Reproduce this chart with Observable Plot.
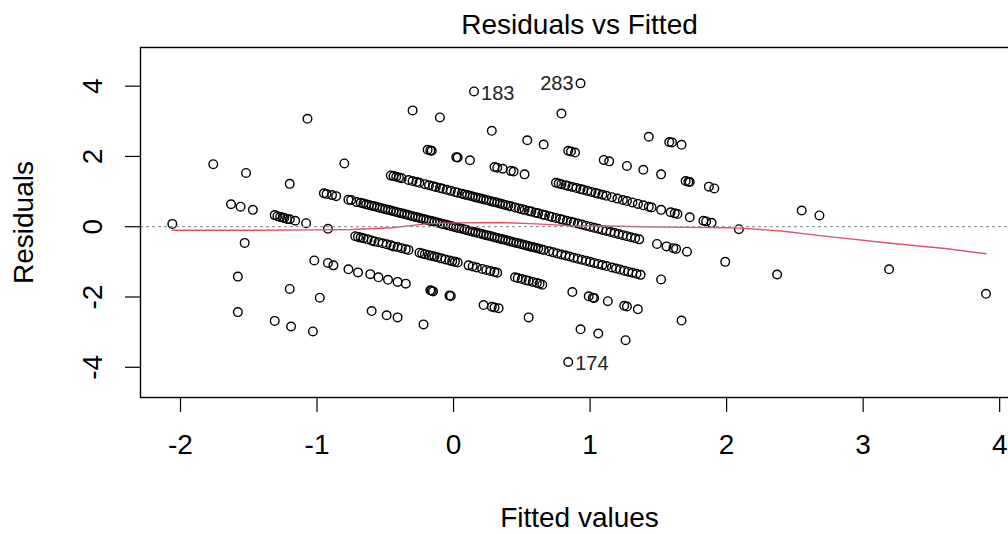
<!DOCTYPE html>
<html><head><meta charset="utf-8">
<script src="https://cdn.jsdelivr.net/npm/d3@7"></script>
<script src="https://cdn.jsdelivr.net/npm/@observablehq/plot@0.6"></script>
<style>
html,body{margin:0;padding:0;background:#fff;overflow:hidden;width:1008px;height:534px}
svg{max-width:none !important;display:block}
</style>
</head><body><div id="chart"></div>
<script>
// Fitted values and residuals, grouped by the diagonal streak they lie on
const fittedP5 = [0.93];
const residP5  = [4.08];
const fittedP4 = [0.15, 0.79, 1.43, 1.58, 1.60, 1.67];
const residP4  = [3.85, 3.22, 2.56, 2.41, 2.40, 2.33];
const fittedP3 = [-0.30,-0.10,0.28,0.54,0.66,0.84,0.86,0.89,1.10,1.14,1.27,1.39,1.52,1.70,1.72,1.73,1.87,1.91,2.55,2.68];
const residP3  = [3.31,3.11,2.73,2.46,2.34,2.16,2.14,2.11,1.90,1.86,1.73,1.62,1.49,1.30,1.28,1.27,1.14,1.09,0.46,0.32];
const fittedP2 = [-1.07,-0.19,-0.17,-0.16,0.02,0.03,0.12,0.30,0.32,0.36,0.42,0.44,0.52,0.75,0.77,0.79,0.82,0.84,0.87,0.90,0.93,0.95,0.98,1.01,1.04,1.06,1.09,1.12,1.16,1.20,1.24,1.27,1.31,1.35,1.39,1.43,1.45,1.52,1.59,1.62,1.64,1.73,1.83,1.85,1.89,2.09,3.19,3.90];
const residP2  = [3.07,2.19,2.17,2.16,1.98,1.97,1.89,1.70,1.68,1.65,1.59,1.57,1.49,1.25,1.23,1.21,1.18,1.16,1.13,1.10,1.07,1.05,1.02,0.99,0.96,0.94,0.91,0.88,0.84,0.80,0.76,0.73,0.69,0.65,0.61,0.57,0.55,0.48,0.41,0.38,0.36,0.27,0.17,0.15,0.11,-0.07,-1.21,-1.91];
const fittedP1 = [-0.80,-0.46,-0.44,-0.42,-0.40,-0.38,-0.33,-0.30,-0.27,-0.25,-0.21,-0.18,-0.15,-0.13,-0.10,-0.08,-0.05,-0.02,0.01,0.03,0.06,0.08,0.10,0.12,0.14,0.16,0.18,0.20,0.22,0.24,0.26,0.28,0.30,0.32,0.34,0.36,0.38,0.40,0.42,0.45,0.48,0.50,0.52,0.55,0.57,0.60,0.62,0.65,0.67,0.70,0.72,0.75,0.78,0.80,0.83,0.86,0.88,0.91,0.94,0.97,1.00,1.03,1.06,1.09,1.12,1.15,1.18,1.21,1.24,1.27,1.30,1.33,1.36,1.49,1.56,1.61,1.63,1.71,1.99,2.37];
const residP1  = [1.80,1.46,1.44,1.42,1.40,1.38,1.33,1.30,1.27,1.25,1.21,1.18,1.15,1.13,1.10,1.08,1.05,1.02,0.99,0.97,0.94,0.92,0.90,0.88,0.86,0.84,0.82,0.80,0.78,0.76,0.74,0.72,0.70,0.68,0.66,0.64,0.62,0.60,0.58,0.55,0.52,0.50,0.48,0.45,0.43,0.40,0.38,0.35,0.33,0.30,0.28,0.25,0.22,0.20,0.17,0.14,0.12,0.09,0.06,0.03,0.00,-0.03,-0.06,-0.09,-0.12,-0.15,-0.18,-0.21,-0.24,-0.27,-0.30,-0.33,-0.36,-0.49,-0.56,-0.61,-0.63,-0.71,-1.00,-1.36];
const fitted0 = [-1.76,-1.52,-1.20,-0.95,-0.93,-0.89,-0.86,-0.77,-0.75,-0.71,-0.68,-0.66,-0.64,-0.62,-0.60,-0.58,-0.56,-0.54,-0.52,-0.50,-0.48,-0.46,-0.44,-0.42,-0.40,-0.38,-0.36,-0.34,-0.32,-0.30,-0.28,-0.26,-0.24,-0.22,-0.20,-0.18,-0.16,-0.14,-0.12,-0.10,-0.08,-0.06,-0.04,-0.02,0.00,0.02,0.04,0.06,0.08,0.10,0.12,0.14,0.16,0.18,0.20,0.22,0.24,0.26,0.28,0.30,0.32,0.34,0.36,0.38,0.40,0.42,0.44,0.46,0.48,0.50,0.52,0.54,0.56,0.58,0.60,0.62,0.64,0.66,0.70,0.73,0.76,0.79,0.82,0.85,0.88,0.91,0.94,0.97,1.00,1.03,1.06,1.09,1.12,1.16,1.19,1.22,1.25,1.28,1.31,1.34,1.37,1.52];
const resid0  = [1.78,1.53,1.22,0.95,0.93,0.90,0.87,0.77,0.76,0.70,0.68,0.66,0.64,0.62,0.60,0.58,0.56,0.54,0.52,0.50,0.48,0.46,0.44,0.42,0.40,0.38,0.36,0.34,0.32,0.30,0.28,0.26,0.24,0.22,0.20,0.18,0.16,0.14,0.12,0.10,0.08,0.06,0.04,0.02,0.00,-0.02,-0.04,-0.06,-0.08,-0.10,-0.12,-0.14,-0.16,-0.18,-0.20,-0.22,-0.24,-0.26,-0.28,-0.30,-0.32,-0.34,-0.36,-0.38,-0.40,-0.42,-0.44,-0.46,-0.48,-0.50,-0.52,-0.54,-0.56,-0.58,-0.60,-0.62,-0.64,-0.66,-0.70,-0.73,-0.76,-0.79,-0.82,-0.85,-0.88,-0.91,-0.94,-0.97,-1.00,-1.03,-1.06,-1.09,-1.12,-1.16,-1.19,-1.22,-1.25,-1.28,-1.31,-1.34,-1.37,-1.50];
const fittedM1 = [-1.63,-1.56,-1.47,-1.31,-1.29,-1.27,-1.25,-1.24,-1.22,-1.20,-1.16,-1.08,-0.92,-0.72,-0.70,-0.68,-0.66,-0.63,-0.60,-0.58,-0.55,-0.52,-0.49,-0.46,-0.44,-0.41,-0.38,-0.35,-0.33,-0.25,-0.23,-0.21,-0.18,-0.16,-0.14,-0.12,-0.09,-0.06,-0.03,-0.01,0.01,0.03,0.11,0.14,0.17,0.21,0.24,0.27,0.30,0.32,0.45,0.47,0.50,0.53,0.55,0.58,0.61,0.63,0.65,0.87,0.99,1.02,1.03,1.13,1.25,1.27,1.35,1.67];
const residM1  = [0.64,0.57,0.48,0.33,0.30,0.28,0.26,0.25,0.22,0.21,0.17,0.10,-0.06,-0.27,-0.29,-0.31,-0.33,-0.36,-0.39,-0.42,-0.44,-0.47,-0.50,-0.53,-0.56,-0.58,-0.61,-0.64,-0.66,-0.74,-0.76,-0.78,-0.81,-0.83,-0.85,-0.87,-0.90,-0.93,-0.96,-0.98,-1.00,-1.02,-1.10,-1.13,-1.16,-1.20,-1.23,-1.26,-1.29,-1.31,-1.44,-1.46,-1.49,-1.52,-1.54,-1.57,-1.60,-1.62,-1.65,-1.86,-1.98,-2.02,-2.03,-2.12,-2.25,-2.27,-2.35,-2.67];
const fittedM2 = [-2.06,-1.53,-1.02,-0.92,-0.88,-0.77,-0.70,-0.61,-0.55,-0.48,-0.41,-0.35,-0.17,-0.16,-0.15,-0.03,-0.02,0.22,0.28,0.30,0.33,0.55,0.93,1.06,1.26];
const residM2  = [0.08,-0.46,-0.96,-1.03,-1.10,-1.21,-1.30,-1.35,-1.44,-1.51,-1.57,-1.62,-1.81,-1.82,-1.84,-1.96,-1.97,-2.23,-2.28,-2.30,-2.32,-2.58,-2.92,-3.04,-3.23];
const fittedM3 = [-1.58,-1.20,-0.98,-0.60,-0.49,-0.41,-0.22,0.84];
const residM3  = [-1.42,-1.77,-2.02,-2.40,-2.52,-2.58,-2.78,-3.85];
const fittedM4 = [-1.58,-1.31,-1.19,-1.03];
const residM4  = [-2.43,-2.68,-2.84,-2.98];

// Labelled observations
const labelIds    = ["183", "283", "174"];
const labelFitted = [0.15, 0.93, 0.84];
const labelResid  = [3.85, 4.08, -3.85];
const labelOnLeft = [false, true, false];

// Smoother (red line)
const smoothX = [-2.06,-1.5,-1.0,-0.75,-0.45,-0.2,0.0,0.35,0.6,0.85,1.1,1.4,1.7,2.0,2.1,2.4,2.7,3.2,3.6,3.9];
const smoothY = [-0.10,-0.10,-0.09,-0.08,-0.03,0.08,0.11,0.12,0.08,0.03,0.02,0.0,-0.02,-0.03,-0.04,-0.12,-0.26,-0.47,-0.62,-0.77];

const xTicks = [-2, -1, 0, 1, 2, 3, 4];
const yTicks = [-4, -2, 0, 2, 4];

const bands = [[fittedP5,residP5],[fittedP4,residP4],[fittedP3,residP3],[fittedP2,residP2],[fittedP1,residP1],[fitted0,resid0],[fittedM1,residM1],[fittedM2,residM2],[fittedM3,residM3],[fittedM4,residM4]];
const points = [];
bands.forEach(([f, r]) => f.forEach((v, i) => points.push({fitted: v, residual: r[i]})));
const labels = labelIds.map((id, i) => ({id, fitted: labelFitted[i], residual: labelResid[i], left: labelOnLeft[i]}));
const smooth = smoothX.map((x, i) => ({x, y: smoothY[i]}));

const FS = 28;
const chart = Plot.plot({
  width: 1020, height: 534,
  marginLeft: 140, marginRight: 2, marginTop: 47, marginBottom: 137,
  style: {fontFamily: "'Liberation Sans', Arial, sans-serif", background: "white", maxWidth: "none", color: "black"},
  x: {domain: [-2.293, 4.138]},
  y: {domain: [-4.86, 5.10]},
  marks: [
    Plot.dot(points, {x: "fitted", y: "residual", r: 4.3, stroke: "black", strokeWidth: 1.4, fill: "none"}),
    Plot.line(smooth, {x: "x", y: "y", stroke: "#DF536B", strokeWidth: 1.4}),
    Plot.ruleY([0], {stroke: "#9a9a9a", strokeDasharray: "3,3", strokeWidth: 1.2}),
    Plot.text(labels.filter(d => !d.left), {x: "fitted", y: "residual", text: "id", textAnchor: "start", dx: 7, dy: 2, fontSize: 20, fill: "#222"}),
    Plot.text(labels.filter(d => d.left), {x: "fitted", y: "residual", text: "id", textAnchor: "end", dx: -7, fontSize: 20, fill: "#222"}),
    Plot.frame({stroke: "black", strokeWidth: 1.4}),
    Plot.axisX({ticks: xTicks, tickSize: 15, tickPadding: 22, fontSize: FS, tickFormat: d => String(d), label: null, stroke: "black", strokeWidth: 1.2}),
    Plot.axisY({ticks: yTicks, tickSize: 15, tickFormat: () => "", label: null, stroke: "black", strokeWidth: 1.2}),
    Plot.text(yTicks, {y: d => d, text: d => String(d), frameAnchor: "left", dx: -47, rotate: -90, textAnchor: "middle", lineAnchor: "middle", fontSize: FS}),
    Plot.text(["Residuals vs Fitted"], {text: d => d, frameAnchor: "top", dy: -22, textAnchor: "middle", lineAnchor: "middle", fontSize: FS}),
    Plot.text(["Fitted values"], {text: d => d, frameAnchor: "bottom", dy: 121, textAnchor: "middle", lineAnchor: "middle", fontSize: FS}),
    Plot.text(["Residuals"], {text: d => d, frameAnchor: "left", dx: -116, rotate: -90, textAnchor: "middle", lineAnchor: "middle", fontSize: FS})
  ]
});
document.getElementById("chart").append(chart);
</script>
</body></html>
